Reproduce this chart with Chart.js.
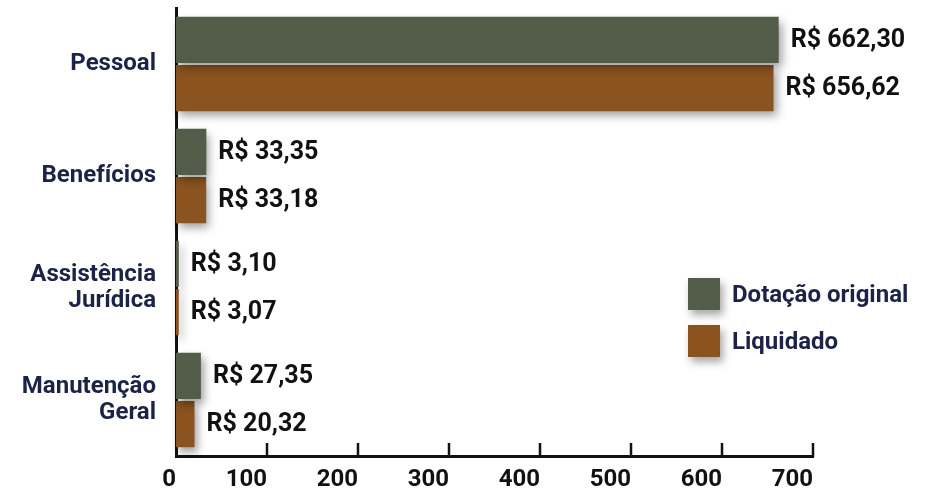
<!DOCTYPE html>
<html lang="pt-BR">
<head>
<meta charset="utf-8">
<title>Dotação x Liquidado</title>
<script src="https://cdn.jsdelivr.net/npm/chart.js@4/dist/chart.umd.min.js"></script>
<style>
  body { margin: 0; background: #fff; }
  #wrap { position: relative; width: 934px; height: 496px; }
  #legend { position: absolute; left: 688px; top: 278px; font: bold 24px Roboto, sans-serif; color: #1b2447; }
  .item { display: flex; align-items: center; height: 32px; margin-bottom: 15px; }
  .box { width: 32px; height: 32px; margin-right: 12px; box-shadow: 3px 5px 8px rgba(0,0,0,0.35); }
</style>
</head>
<body>
<div id="wrap">
  <canvas id="chart"></canvas>
  <div id="legend"></div>
</div>
<script>
const categories = ["Pessoal", ["Benefícios"], ["Assistência", "Jurídica"], ["Manutenção", "Geral"]];
const dotacao = [662.30, 33.35, 3.10, 27.35];
const liquidado = [656.62, 33.18, 3.07, 20.32];
const seriesNames = ["Dotação original", "Liquidado"];
const seriesColors = ["#535c49", "#8a5320"];
const xTicks = [0, 100, 200, 300, 400, 500, 600, 700];

const FONT = "Roboto, 'Open Sans', sans-serif";

function brl(v) {
  return "R$ " + v.toFixed(2).replace(".", ",");
}

// drop shadow under the bars, value labels after
const barExtras = {
  id: "barExtras",
  beforeDatasetsDraw(chart) {
    const ctx = chart.ctx;
    ctx.save();
    ctx.shadowColor = "rgba(0,0,0,0.38)";
    ctx.shadowBlur = 9;
    ctx.shadowOffsetX = 3;
    ctx.shadowOffsetY = 5;
  },
  afterDatasetsDraw(chart) {
    const ctx = chart.ctx;
    ctx.restore();
    ctx.save();
    ctx.font = "bold 25px " + FONT;
    ctx.fillStyle = "#111";
    ctx.textBaseline = "middle";
    ctx.textAlign = "left";
    chart.data.datasets.forEach((ds, i) => {
      chart.getDatasetMeta(i).data.forEach((bar, j) => {
        ctx.fillText(brl(ds.data[j]), bar.x + 12, bar.y + 1);
      });
    });
    ctx.restore();
  }
};

// short tick marks pointing up from the x axis
const upTicks = {
  id: "upTicks",
  afterDraw(chart) {
    const x = chart.scales.x;
    const ctx = chart.ctx;
    const y0 = chart.chartArea.bottom + 1;
    ctx.save();
    ctx.strokeStyle = "#111";
    ctx.lineWidth = 2.5;
    x.ticks.forEach(t => {
      if (t.value === 0) return;
      const px = Math.round(x.getPixelForValue(t.value));
      ctx.beginPath();
      ctx.moveTo(px, y0);
      ctx.lineTo(px, y0 - 14);
      ctx.stroke();
    });
    ctx.restore();
  }
};

const chart = new Chart(document.getElementById("chart"), {
  type: "bar",
  data: {
    labels: categories,
    datasets: [
      { label: seriesNames[0], data: dotacao, backgroundColor: seriesColors[0] },
      { label: seriesNames[1], data: liquidado, backgroundColor: seriesColors[1] }
    ]
  },
  options: {
    indexAxis: "y",
    responsive: true,
    maintainAspectRatio: false,
    animation: false,
    layout: { padding: { top: 8, right: 121, left: 0, bottom: 0 } },
    datasets: { bar: { categoryPercentage: 0.86, barPercentage: 0.96, clip: false } },
    plugins: {
      legend: { display: false },
      tooltip: { enabled: false }
    },
    scales: {
      x: {
        min: 0,
        max: 700,
        afterBuildTicks(scale) { scale.ticks = xTicks.map(v => ({ value: v })); },
        afterFit(scale) { scale.height = 40; },
        border: { color: "#111", width: 3 },
        grid: { display: false, drawTicks: false },
        ticks: {
          align: "end",
          padding: 10,
          color: "#111",
          font: { family: FONT, size: 24, weight: "bold" }
        }
      },
      y: {
        afterFit(scale) {
          scale.width = 176;
          scale.paddingTop = 0;
          scale.paddingBottom = 0;
        },
        border: { color: "#111", width: 3 },
        grid: { display: false, drawTicks: false },
        ticks: {
          padding: 20,
          color: "#1b2447",
          font: { family: FONT, size: 24, weight: "bold", lineHeight: 1.05 }
        }
      }
    }
  },
  plugins: [barExtras, upTicks]
});

// legend built from the chart's datasets
const legend = document.getElementById("legend");
chart.data.datasets.forEach(ds => {
  const row = document.createElement("div");
  row.className = "item";
  const box = document.createElement("span");
  box.className = "box";
  box.style.background = ds.backgroundColor;
  const txt = document.createElement("span");
  txt.textContent = ds.label;
  row.appendChild(box);
  row.appendChild(txt);
  legend.appendChild(row);
});
</script>
</body>
</html>
